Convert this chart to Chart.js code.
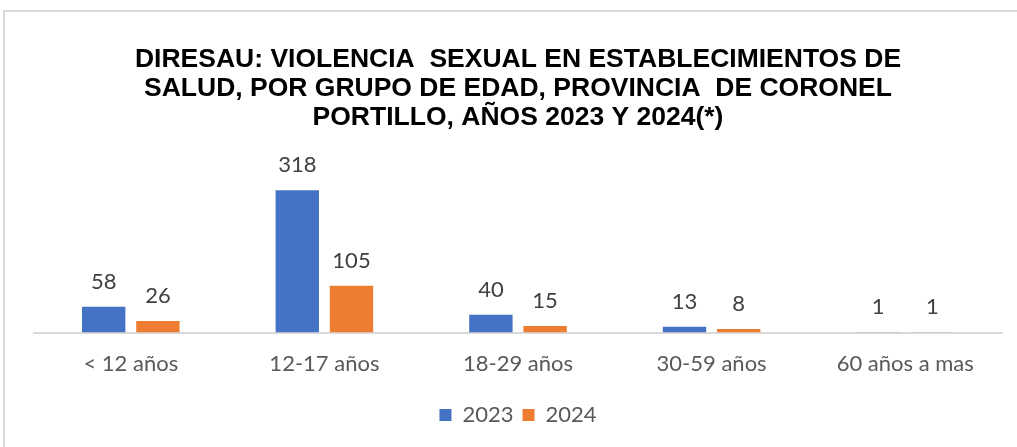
<!DOCTYPE html>
<html>
<head>
<meta charset="utf-8">
<script src="https://cdn.jsdelivr.net/npm/chart.js@4.4.1/dist/chart.umd.min.js"></script>
<style>
  html, body { margin: 0; padding: 0; background: #fff; }
  #wrap { width: 1017px; height: 447px; }
</style>
</head>
<body>
<div id="wrap"><canvas id="chart_violencia"></canvas></div>
<script>
var categories = ['< 12 años', '12-17 años', '18-29 años', '30-59 años', '60 años a mas'];
var values2023 = [58, 318, 40, 13, 1];
var values2024 = [26, 105, 15, 8, 1];
var titleLines = [
    'DIRESAU: VIOLENCIA  SEXUAL EN ESTABLECIMIENTOS DE',
    'SALUD, POR GRUPO DE EDAD, PROVINCIA  DE CORONEL',
    'PORTILLO, AÑOS 2023 Y 2024(*)'
];

var labelFont = 'Lato, "Open Sans", sans-serif';

var chart_violencia = new Chart(document.getElementById('chart_violencia'), {
    type: 'bar',
    data: {
        labels: categories,
        datasets: [
            {
                label: '2023',
                data: values2023,
                backgroundColor: '#4472C4',
                categoryPercentage: 0.56,
                barPercentage: 0.8
            },
            {
                label: '2024',
                data: values2024,
                backgroundColor: '#ED7D31',
                categoryPercentage: 0.56,
                barPercentage: 0.8
            }
        ]
    },
    options: {
        animation: false,
        responsive: true,
        maintainAspectRatio: false,
        layout: {
            padding: { left: 34, right: 15, top: 0, bottom: 11 }
        },
        plugins: {
            title: {
                display: true,
                text: titleLines,
                color: '#000',
                font: { family: '"Liberation Sans", Arial, sans-serif', size: 26.5, weight: 'bold', lineHeight: 1.1 },
                padding: { top: 45, bottom: 19 }
            },
            legend: {
                position: 'bottom',
                labels: {
                    boxWidth: 12,
                    boxHeight: 12,
                    color: '#595959',
                    font: { family: labelFont, size: 22 },
                    padding: 9
                }
            },
            tooltip: { enabled: false }
        },
        scales: {
            x: {
                grid: { display: false, drawTicks: false },
                border: { display: true, color: '#d9d9d9', width: 2 },
                ticks: {
                    color: '#595959',
                    font: { family: labelFont, size: 22 },
                    padding: 18
                }
            },
            y: {
                display: false,
                min: 0,
                max: 405
            }
        }
    },
    plugins: [{
        id: 'customPlugin',
        beforeDraw: (chart) => {
            const ctx = chart.ctx;
            ctx.save();
            ctx.fillStyle = 'white';
            ctx.fillRect(0, 0, chart.width, chart.height);
            ctx.strokeStyle = '#d9d9d9';
            ctx.lineWidth = 2;
            ctx.beginPath();
            ctx.moveTo(4, chart.height);
            ctx.lineTo(4, 11);
            ctx.lineTo(chart.width, 11);
            ctx.stroke();
            ctx.restore();
        },
        afterDatasetsDraw: (chart) => {
            const ctx = chart.ctx;
            ctx.save();
            ctx.fillStyle = '#404040';
            ctx.font = '22px ' + labelFont;
            ctx.textAlign = 'center';
            ctx.textBaseline = 'middle';
            chart.data.datasets.forEach((ds, i) => {
                chart.getDatasetMeta(i).data.forEach((bar, j) => {
                    ctx.fillText(String(ds.data[j]), bar.x, bar.y - 25);
                });
            });
            ctx.restore();
        }
    }]
});
</script>
</body>
</html>
